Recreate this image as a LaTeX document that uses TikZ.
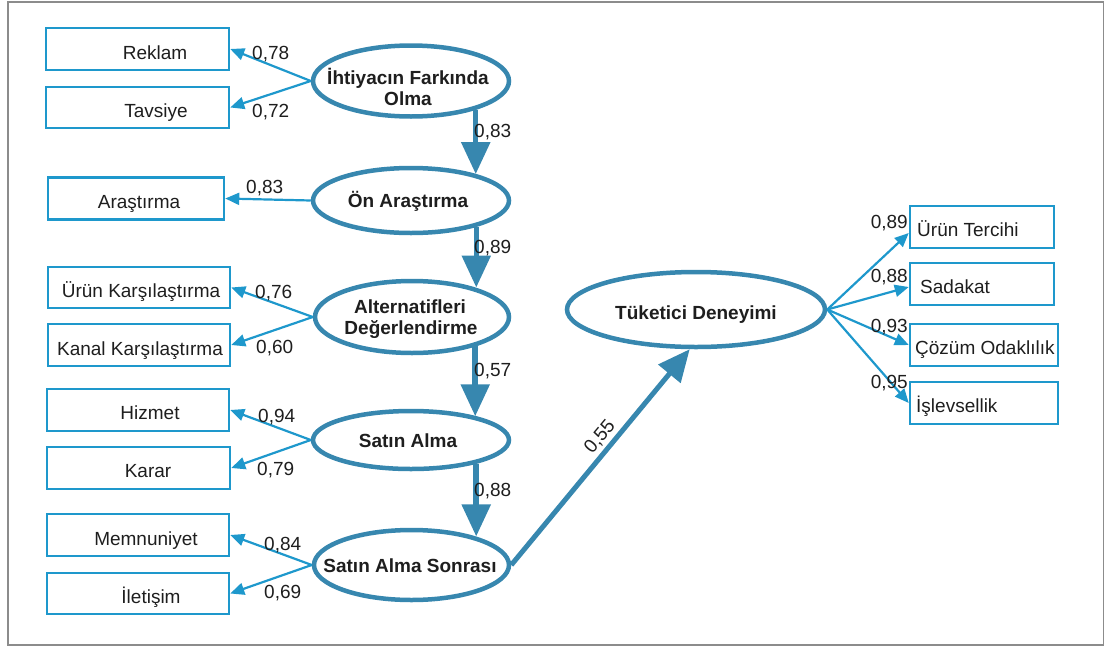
\documentclass[tikz,border=0pt]{standalone}
\usepackage{fontspec}
\setmainfont{Liberation Sans}
\usetikzlibrary{arrows.meta,shapes.geometric}
\definecolor{boxblue}{RGB}{30,152,204}
\definecolor{ellblue}{RGB}{55,135,175}
\definecolor{txt}{RGB}{30,30,30}
\definecolor{framegray}{RGB}{140,140,140}
\begin{document}
\begin{tikzpicture}[x=1pt,y=-1pt,
  box/.style={draw=boxblue,line width=2.5pt,minimum height=42pt,inner sep=0pt},
  ell/.style={ellipse,draw=ellblue,line width=4.5pt,inner sep=0pt,fill=white},
  lbl/.style={font=\fontsize{19}{21}\selectfont,text=txt,inner sep=0pt},
  etxt/.style={font=\bfseries\fontsize{19}{21}\selectfont,text=txt,inner sep=0pt},
  indarr/.style={draw=boxblue,line width=2.2pt,-{Triangle[length=14pt,width=12pt]}},
  patharr/.style={draw=ellblue,line width=5.5pt,-{Triangle[length=32pt,width=28pt]}},
]
\useasboundingbox (0,0) rectangle (1105,648);
\draw[framegray,line width=1.8pt] (8,2) rectangle (1103.5,645);

% left indicator boxes
\node[box,minimum width=183pt] (reklam) at (137.5,49) {};
\node[box,minimum width=183pt,minimum height=41pt] (tavsiye) at (137.5,107.5) {};
\node[box,minimum width=176pt] (arastirma) at (136,198.5) {};
\node[box,minimum width=182pt,minimum height=41pt] (urunk) at (139,287.5) {};
\node[box,minimum width=182pt] (kanalk) at (139,345) {};
\node[box,minimum width=182pt] (hizmet) at (138,410) {};
\node[box,minimum width=183pt] (karar) at (138.5,468) {};
\node[box,minimum width=182pt] (memnun) at (138,535) {};
\node[box,minimum width=182pt,minimum height=41pt] (iletisim) at (138,593.5) {};

\node[lbl,anchor=base] (treklam) at (155,59) {Reklam};
\node[lbl,anchor=base] (ttavsiye) at (156,117) {Tavsiye};
\node[lbl,anchor=base] (tarastirma) at (139,208) {Araştırma};
\node[lbl,anchor=base] (turunk) at (141,297) {Ürün Karşılaştırma};
\node[lbl,anchor=base] (tkanalk) at (140,355) {Kanal Karşılaştırma};
\node[lbl,anchor=base] (thizmet) at (150,419) {Hizmet};
\node[lbl,anchor=base] (tkarar) at (148,477) {Karar};
\node[lbl,anchor=base] (tmemnun) at (146,545) {Memnuniyet};
\node[lbl,anchor=base] (tiletisim) at (151,603) {İletişim};

% right indicator boxes
\node[box,minimum width=144pt] (urunt) at (982,227) {};
\node[box,minimum width=144pt] (sadakat) at (982,284) {};
\node[box,minimum width=148pt] (cozum) at (984,345) {};
\node[box,minimum width=148pt] (islev) at (984,403) {};
\node[lbl,anchor=base west] (turunt) at (917,236) {Ürün Tercihi};
\node[lbl,anchor=base west] (tsadakat) at (920,293) {Sadakat};
\node[lbl,anchor=base west] (tcozum) at (915,354) {Çözüm Odaklılık};
\node[lbl,anchor=base west] (tislev) at (916,412) {İşlevsellik};

% latent ellipses
\node[ell,minimum width=196pt,minimum height=71pt] (e1) at (411,81) {};
\node[ell,minimum width=196pt,minimum height=65pt] (e2) at (411,200.5) {};
\node[ell,minimum width=194pt,minimum height=72pt] (e3) at (412,317) {};
\node[ell,minimum width=196pt,minimum height=58pt] (e4) at (411,440) {};
\node[ell,minimum width=195pt,minimum height=70pt] (e5) at (411.5,565) {};
\node[ell,minimum width=258pt,minimum height=75pt] (e6) at (696,309.5) {};

\node[etxt,anchor=base] (te1a) at (408,84) {İhtiyacın Farkında};
\node[etxt,anchor=base] (te1b) at (408,105) {Olma};
\node[etxt,anchor=base] (te2) at (408,207) {Ön Araştırma};
\node[etxt,anchor=base] (te3a) at (410,313) {Alternatifleri};
\node[etxt,anchor=base] (te3b) at (411,334) {Değerlendirme};
\node[etxt,anchor=base] (te4) at (408,447) {Satın Alma};
\node[etxt,anchor=base] (te5) at (410,572) {Satın Alma Sonrası};
\node[etxt,anchor=base] (te6) at (696,319) {Tüketici Deneyimi};

% structural paths
\draw[patharr] (e1.-24.5) -- (e1.-24.5 |- e2.22.6);
\draw[patharr] (e2.-22.6) -- (e2.-22.6 |- e3.25.2);
\draw[patharr] (e3.-25.2) -- (e3.-25.2 |- e4.20.4);
\draw[patharr] (e4.-20.4) -- (e4.-20.4 |- e5.24.4);
\draw[patharr,line width=5pt] (e5.east) -- (e6.-99);

% indicator arrows
\draw[indarr] (e1.west) -- (reklam.east);
\draw[indarr] (e1.west) -- (tavsiye.east);
\draw[indarr] (e2.west) -- (arastirma.east);
\draw[indarr] (e3.west) -- (urunk.east);
\draw[indarr] (e3.west) -- (kanalk.east);
\draw[indarr] (e4.west) -- (hizmet.east);
\draw[indarr] (e4.west) -- (karar.east);
\draw[indarr] (e5.west) -- (memnun.east);
\draw[indarr] (e5.west) -- (iletisim.east);
\draw[indarr] (e6.east) -- ([yshift=-6pt]urunt.west);
\draw[indarr] (e6.east) -- ([yshift=-3pt]sadakat.west);
\draw[indarr] (e6.east) -- (cozum.west);
\draw[indarr] (e6.east) -- (islev.west);

% coefficients
\node[lbl,anchor=base west] (l1) at (252,59) {0,78};
\node[lbl,anchor=base west] (l2) at (252,117) {0,72};
\node[lbl,anchor=base west] (l3) at (246,193) {0,83};
\node[lbl,anchor=base west] (l4) at (255,298) {0,76};
\node[lbl,anchor=base west] (l5) at (256,353) {0,60};
\node[lbl,anchor=base west] (l6) at (258,422) {0,94};
\node[lbl,anchor=base west] (l7) at (257,475) {0,79};
\node[lbl,anchor=base west] (l8) at (264,550) {0,84};
\node[lbl,anchor=base west] (l9) at (264,598) {0,69};
\node[lbl,anchor=base west] (p1) at (474,137) {0,83};
\node[lbl,anchor=base west] (p2) at (474,253) {0,89};
\node[lbl,anchor=base west] (p3) at (474,376) {0,57};
\node[lbl,anchor=base west] (p4) at (474,496) {0,88};
\node[lbl,rotate=50,anchor=center] (p5) at (600,437) {0,55};
\node[lbl,anchor=base east] (r1) at (908,228) {0,89};
\node[lbl,anchor=base east] (r2) at (908,282) {0,88};
\node[lbl,anchor=base east] (r3) at (908,332) {0,93};
\node[lbl,anchor=base east] (r4) at (908,388) {0,95};
\end{tikzpicture}
\end{document}
